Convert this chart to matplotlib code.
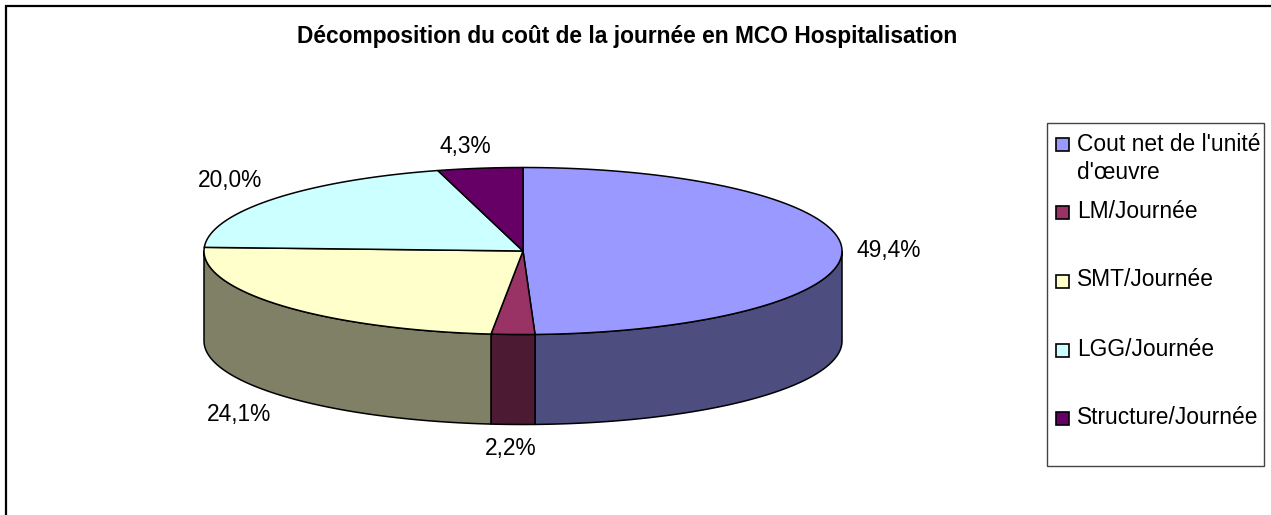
import numpy as np
import matplotlib.pyplot as plt
from matplotlib.patches import Polygon, Rectangle

plt.rcParams['font.family'] = ['Liberation Sans', 'DejaVu Sans']

title = "Décomposition du coût de la journée en MCO Hospitalisation"
categories = ["Cout net de l'unité\nd'œuvre", "LM/Journée", "SMT/Journée", "LGG/Journée", "Structure/Journée"]
values = [49.4, 2.2, 24.1, 20.0, 4.3]
labels = ["49,4%", "2,2%", "24,1%", "20,0%", "4,3%"]
colors = ['#9999FF', '#993366', '#FFFFCC', '#CCFFFF', '#660066']
side_colors = ['#4D4D80', '#4D1A33', '#808066', '#668080', '#330033']

# geometrie du camembert, en pixels de l'image
cx, cy, rx, ry, depth = 523, 251, 319, 83.5, 90
label_pos = [(889, 251), (511, 449), (239, 415), (230, 181), (465, 146)]
swatch_y = [144, 212, 281, 350, 418]
text_y = [158.5, 212, 280, 350, 417]

fig = plt.figure(figsize=(12.71, 5.15), dpi=100)
ax = fig.add_axes([0, 0, 1, 1])
ax.set_xlim(0, 1271)
ax.set_ylim(515, 0)
ax.axis('off')

lw = 1.1


def ell(t):
    # angle en degres, sens horaire depuis le haut
    t = np.radians(t)
    return cx + rx * np.sin(t), cy - ry * np.cos(t)


# cadre exterieur : seuls le haut et la gauche sont visibles
ax.plot([6, 6, 1271], [515, 6, 6], color='black', lw=1.6, solid_joinstyle='miter')

edges = np.cumsum([0] + values) / sum(values) * 360

# parois visibles (moitie basse)
for i in range(len(values)):
    a, b = max(edges[i], 90), min(edges[i + 1], 270)
    if b <= a:
        continue
    t = np.linspace(a, b, 100)
    x, y = ell(t)
    pts = np.r_[np.c_[x, y], np.c_[x[::-1], y[::-1] + depth]]
    ax.add_patch(Polygon(pts, fc=side_colors[i], ec='black', lw=lw, joinstyle='round'))

# dessus
for i in range(len(values)):
    t = np.linspace(edges[i], edges[i + 1], 200)
    x, y = ell(t)
    pts = np.r_[[[cx, cy]], np.c_[x, y]]
    ax.add_patch(Polygon(pts, fc=colors[i], ec='black', lw=lw, joinstyle='round'))

for s, (x, y) in zip(labels, label_pos):
    ax.text(x, y, s, ha='center', va='center', fontsize=16.4, color='black')

ax.text(627, 37, title, ha='center', va='center', fontsize=16.4, fontweight='bold')

# legende
ax.add_patch(Rectangle((1047, 123), 217, 343, fc='white', ec='#444444', lw=1.0))
for name, col, sy, ty in zip(categories, colors, swatch_y, text_y):
    ax.add_patch(Rectangle((1055.5, sy - 6.5), 13, 13, fc=col, ec='black', lw=1.2))
    ax.text(1077, ty, name, ha='left', va='center', fontsize=16.4, linespacing=1.3)

fig.savefig('out.png', dpi=100)
